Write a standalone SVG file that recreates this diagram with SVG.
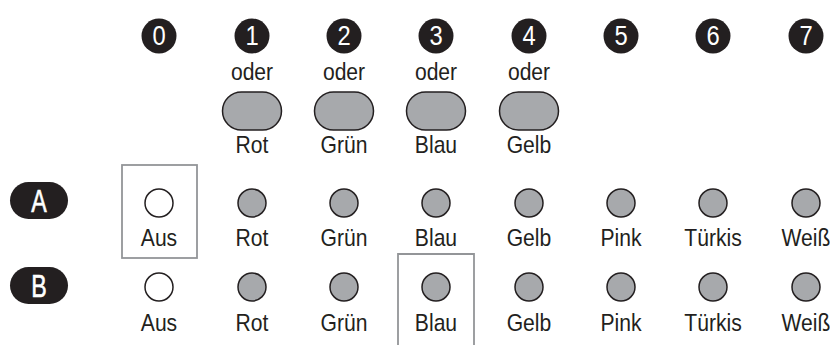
<svg xmlns="http://www.w3.org/2000/svg" width="830" height="345" viewBox="0 0 830 345">
<style>
text{transform-box:fill-box;transform-origin:center}
.num{fill:#231f20}
.numt{fill:#fff;font-family:"Liberation Sans",Arial,sans-serif;font-size:27px;text-anchor:middle;transform:scaleX(0.88)}
.t{fill:#231f20;font-family:"Liberation Sans",Arial,sans-serif;font-size:24px;text-anchor:middle;transform:scaleX(0.88)}
.btn{fill:#a7a9ac;stroke:#231f20;stroke-width:1.5}
.led{fill:#a7a9ac;stroke:#231f20;stroke-width:1.5}
.off{fill:#fff;stroke:#231f20;stroke-width:1.5}
.lab{fill:#231f20}
.labt{fill:#fff;stroke:#fff;stroke-width:0.6;font-family:"Liberation Sans",Arial,sans-serif;font-size:31px;text-anchor:middle;transform:scaleX(0.75)}
.sel{fill:none;stroke:#939598;stroke-width:1.8}
</style>
<g id="numbers">
<g id="n0"><circle class="num" cx="159" cy="36" r="17.5"/><text class="numt" x="159" y="45.5">0</text></g>
<g id="n1"><circle class="num" cx="252" cy="36" r="17.5"/><text class="numt" x="252" y="45.5">1</text></g>
<g id="n2"><circle class="num" cx="344" cy="36" r="17.5"/><text class="numt" x="344" y="45.5">2</text></g>
<g id="n3"><circle class="num" cx="436" cy="36" r="17.5"/><text class="numt" x="436" y="45.5">3</text></g>
<g id="n4"><circle class="num" cx="529" cy="36" r="17.5"/><text class="numt" x="529" y="45.5">4</text></g>
<g id="n5"><circle class="num" cx="621" cy="36" r="17.5"/><text class="numt" x="621" y="45.5">5</text></g>
<g id="n6"><circle class="num" cx="713" cy="36" r="17.5"/><text class="numt" x="713" y="45.5">6</text></g>
<g id="n7"><circle class="num" cx="806" cy="36" r="17.5"/><text class="numt" x="806" y="45.5">7</text></g>
</g>
<g id="buttons">
<g id="b1"><text class="t" x="252" y="80">oder</text><rect class="btn" x="222.5" y="92" width="59" height="38" rx="19"/><text class="t" x="252" y="153">Rot</text></g>
<g id="b2"><text class="t" x="344" y="80">oder</text><rect class="btn" x="314.5" y="92" width="59" height="38" rx="19"/><text class="t" x="344" y="153">Grün</text></g>
<g id="b3"><text class="t" x="436" y="80">oder</text><rect class="btn" x="406.5" y="92" width="59" height="38" rx="19"/><text class="t" x="436" y="153">Blau</text></g>
<g id="b4"><text class="t" x="529" y="80">oder</text><rect class="btn" x="499.5" y="92" width="59" height="38" rx="19"/><text class="t" x="529" y="153">Gelb</text></g>
</g>
<g id="rowA">
<g id="labelA"><rect class="lab" x="10" y="182" width="58" height="37" rx="18.5"/><text class="labt" x="39" y="212">A</text></g>
<g id="A0"><circle class="off" cx="159" cy="203" r="14"/><text class="t" x="159" y="246">Aus</text></g>
<g id="A1"><circle class="led" cx="252" cy="203" r="14"/><text class="t" x="252" y="246">Rot</text></g>
<g id="A2"><circle class="led" cx="344" cy="203" r="14"/><text class="t" x="344" y="246">Grün</text></g>
<g id="A3"><circle class="led" cx="436" cy="203" r="14"/><text class="t" x="436" y="246">Blau</text></g>
<g id="A4"><circle class="led" cx="529" cy="203" r="14"/><text class="t" x="529" y="246">Gelb</text></g>
<g id="A5"><circle class="led" cx="621" cy="203" r="14"/><text class="t" x="621" y="246">Pink</text></g>
<g id="A6"><circle class="led" cx="713" cy="203" r="14"/><text class="t" x="713" y="246">Türkis</text></g>
<g id="A7"><circle class="led" cx="806" cy="203" r="14"/><text class="t" x="806" y="246">Weiß</text></g>
<rect id="selA" class="sel" x="122" y="165" width="75" height="93"/>
</g>
<g id="rowB">
<g id="labelB"><rect class="lab" x="10" y="267" width="58" height="37" rx="18.5"/><text class="labt" x="39" y="297">B</text></g>
<g id="B0"><circle class="off" cx="159" cy="287" r="14"/><text class="t" x="159" y="331">Aus</text></g>
<g id="B1"><circle class="led" cx="252" cy="287" r="14"/><text class="t" x="252" y="331">Rot</text></g>
<g id="B2"><circle class="led" cx="344" cy="287" r="14"/><text class="t" x="344" y="331">Grün</text></g>
<g id="B3"><circle class="led" cx="436" cy="287" r="14"/><text class="t" x="436" y="331">Blau</text></g>
<g id="B4"><circle class="led" cx="529" cy="287" r="14"/><text class="t" x="529" y="331">Gelb</text></g>
<g id="B5"><circle class="led" cx="621" cy="287" r="14"/><text class="t" x="621" y="331">Pink</text></g>
<g id="B6"><circle class="led" cx="713" cy="287" r="14"/><text class="t" x="713" y="331">Türkis</text></g>
<g id="B7"><circle class="led" cx="806" cy="287" r="14"/><text class="t" x="806" y="331">Weiß</text></g>
<path id="selB" class="sel" d="M398 346V254H474V346"/>
</g>
</svg>
